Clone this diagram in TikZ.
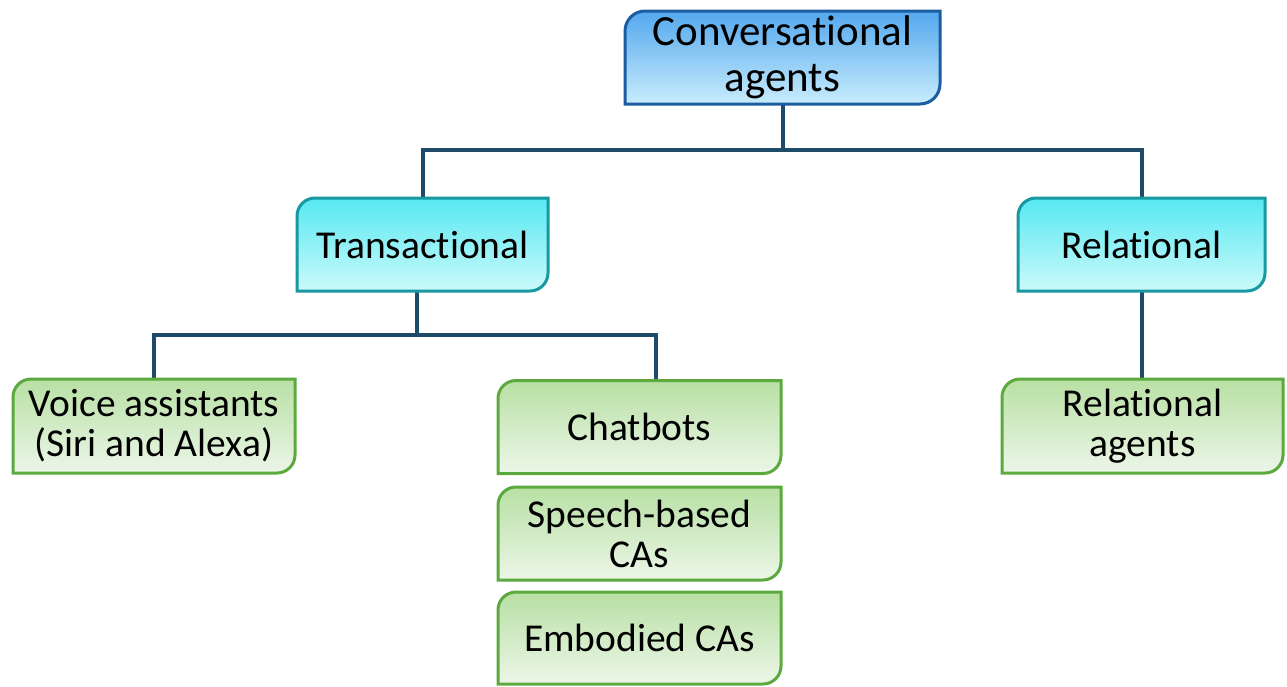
\documentclass[tikz,border=0pt]{standalone}
\usepackage{fontspec}
\setmainfont{Carlito}[Ligatures=NoCommon]
\usetikzlibrary{backgrounds,calc}
\definecolor{topA}{RGB}{84,168,238}
\definecolor{topB}{RGB}{200,236,252}
\definecolor{topE}{RGB}{28,92,160}
\definecolor{midA}{RGB}{86,232,242}
\definecolor{midB}{RGB}{204,250,250}
\definecolor{midE}{RGB}{24,152,160}
\definecolor{lowA}{RGB}{184,224,164}
\definecolor{lowB}{RGB}{236,246,232}
\definecolor{lowE}{RGB}{92,170,62}
\definecolor{connC}{RGB}{30,76,104}
\newcommand\diagshape[3]{%
  \path[#2,line width=3pt] (#1.south west) -- ([yshift=-#3]#1.north west)
    arc[start angle=180,end angle=90,radius=#3] -- (#1.north east)
    -- ([yshift=#3]#1.south east)
    arc[start angle=0,end angle=-90,radius=#3] -- cycle;}
\tikzset{
  x=1pt,y=1pt,
  boxnode/.style={inner sep=0pt,outer sep=0pt,align=center,
    font=\fontsize{39.5}{40}\selectfont},
  topfill/.style={draw=topE,top color=topA,bottom color=topB},
  midfill/.style={draw=midE,top color=midA,bottom color=midB},
  lowfill/.style={draw=lowE,top color=lowA,bottom color=lowB},
  conn/.style={draw=connC,line width=4pt}
}
\begin{document}
\begin{tikzpicture}
\useasboundingbox (0,0) rectangle (1287,-686);
\node[boxnode,minimum width=315,minimum height=93,font=\fontsize{43}{46}\selectfont] (top) at (782.5,-57.5) {Conversational\\agents};
\node[boxnode,minimum width=251,minimum height=93] (trans) at (422.5,-244.5) {Transactional};
\node[boxnode,minimum width=247,minimum height=93] (rel) at (1141.5,-244.5) {Relational};
\node[boxnode,minimum width=282,minimum height=94] (voice) at (154,-426) {Voice assistants\\(Siri and Alexa)};
\node[boxnode,minimum width=283,minimum height=93] (chat) at (639.5,-427) {Chatbots};
\node[boxnode,minimum width=283,minimum height=93] (speech) at (639.5,-533.5) {Speech-based\\CAs};
\node[boxnode,minimum width=283,minimum height=92] (emb) at (639.5,-638) {Embodied CAs};
\node[boxnode,minimum width=281,minimum height=94] (relag) at (1142.5,-426) {Relational\\agents};
\begin{scope}[on background layer]
\draw[conn] (top.south) -- ++(0,-46) coordinate (j1);
\draw[conn] (trans.north) |- (j1) -| (rel.north);
\draw[conn] ([xshift=-6]trans.south) -- ++(0,-44) coordinate (j2);
\draw[conn] (voice.north) |- (j2) -| ([xshift=16]chat.north);
\draw[conn] (rel.south) -- (rel.south |- relag.north);
\diagshape{top}{topfill}{20}
\diagshape{trans}{midfill}{18}
\diagshape{rel}{midfill}{18}
\diagshape{voice}{lowfill}{18}
\diagshape{chat}{lowfill}{18}
\diagshape{speech}{lowfill}{18}
\diagshape{emb}{lowfill}{18}
\diagshape{relag}{lowfill}{18}
\end{scope}
\end{tikzpicture}
\end{document}
